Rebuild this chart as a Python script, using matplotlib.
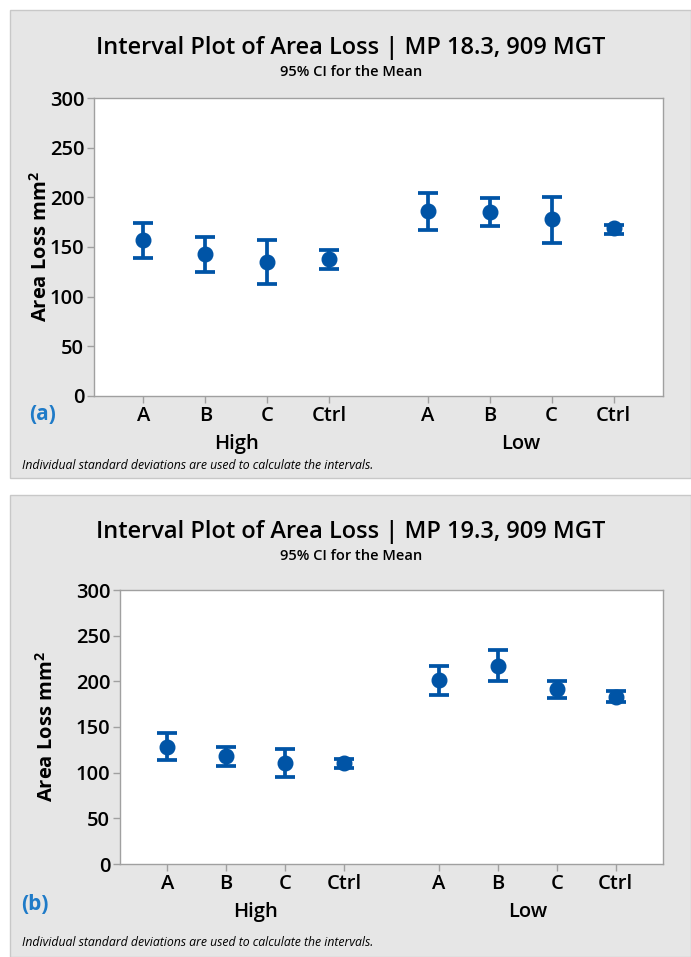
import numpy as np
import matplotlib
matplotlib.use("Agg")
import matplotlib.pyplot as plt
from matplotlib.patches import Rectangle

plt.rcParams['font.family'] = ['Open Sans', 'DejaVu Sans']

# x categories
levels = ["A", "B", "C", "Ctrl"]
groups = ["High", "Low"]

# panel (a): MP 18.3, 909 MGT
mean_a = [157, 143, 135, 138, 186, 185, 178, 169]
low_a = [139, 125, 113, 128, 167, 171, 154, 163]
high_a = [174, 160, 157, 147, 204, 199, 200, 172]

# panel (b): MP 19.3, 909 MGT
mean_b = [128, 118, 111, 111, 201, 217, 192, 183]
low_b = [114, 107, 95, 105, 185, 200, 182, 177]
high_b = [143, 128, 126, 115, 217, 234, 200, 189]

BLUE = "#0054A6"
GREY_BG = "#E6E6E6"
W, H = 691, 957

fig = plt.figure(figsize=(W / 100, H / 100), dpi=100)
fig.patch.set_facecolor("white")


def px(x0, y0, x1, y1):
    # pixel box -> figure fraction [left, bottom, width, height]
    return [x0 / W, 1 - y1 / H, (x1 - x0) / W, (y1 - y0) / H]


def panel(box, axbox, mean, lo, hi, title, tag, ty, tagpos, foot_y, grp_y, ylab_x):
    l, b, w, h = px(*box)
    fig.patches.append(Rectangle((l, b), w, h, transform=fig.transFigure,
                                 facecolor=GREY_BG, edgecolor="#C8C8C8", lw=1.0, zorder=-5))
    ax = fig.add_axes(px(*axbox))
    ax.set_zorder(2)
    ax.set_facecolor("white")
    xpos = np.r_[np.arange(4), np.arange(4) + 4.6]
    mean = np.array(mean)
    err = np.vstack([mean - np.array(lo), np.array(hi) - mean])
    ax.errorbar(xpos, mean, yerr=err, fmt="o", color=BLUE, ms=10.5,
                elinewidth=2.7, capsize=7, capthick=2.7, zorder=3)
    ax.set_xlim(-0.8, 8.4)
    ax.set_ylim(0, 300)
    ax.set_yticks(np.arange(0, 301, 50))
    ax.set_xticks(xpos)
    ax.set_xticklabels(levels * 2)
    for s in ax.spines.values():
        s.set_color("#A0A0A0")
        s.set_linewidth(1.0)
    ax.tick_params(axis="both", colors="#A0A0A0", labelcolor="black",
                   labelsize=14.5, length=5, width=1, pad=2)
    for t in ax.get_yticklabels() + ax.get_xticklabels():
        t.set_fontweight("semibold")
    ax.set_ylabel("Area Loss mm$^\\mathregular{2}$", fontsize=14.5,
                  fontweight="bold")
    ax.yaxis.set_label_coords((ylab_x - axbox[0]) / (axbox[2] - axbox[0]), 0.5)
    # group labels
    for gx, g in zip([1.5, 6.1], groups):
        ax.text(gx, grp_y, g, transform=ax.get_xaxis_transform(), ha="center",
                va="center", fontsize=14.5, fontweight="semibold")
    fig.text(351 / W, 1 - ty / H, title, ha="center", va="center",
             fontsize=17, fontweight="semibold")
    fig.text(351 / W, 1 - (ty + 24) / H, "95% CI for the Mean", ha="center",
             va="center", fontsize=10.5, fontweight="semibold")
    fig.text(tagpos[0] / W, 1 - tagpos[1] / H, tag, ha="center", va="center",
             fontsize=15, fontweight="bold", color="#1F7BC8")
    fig.text(22 / W, 1 - foot_y / H,
             "Individual standard deviations are used to calculate the intervals.",
             ha="left", va="center", fontsize=8.8, style="italic")
    return ax


panel((10, 10, 691, 478), (94, 98, 663, 396), mean_a, low_a, high_a,
      "Interval Plot of Area Loss | MP 18.3, 909 MGT", "(a)", 48, (43, 415), 466, -0.16, 52)
panel((10, 495, 691, 957), (120, 590, 663, 864), mean_b, low_b, high_b,
      "Interval Plot of Area Loss | MP 19.3, 909 MGT", "(b)", 532, (35, 905), 943, -0.175, 58)

fig.savefig("out.png", dpi=100)
